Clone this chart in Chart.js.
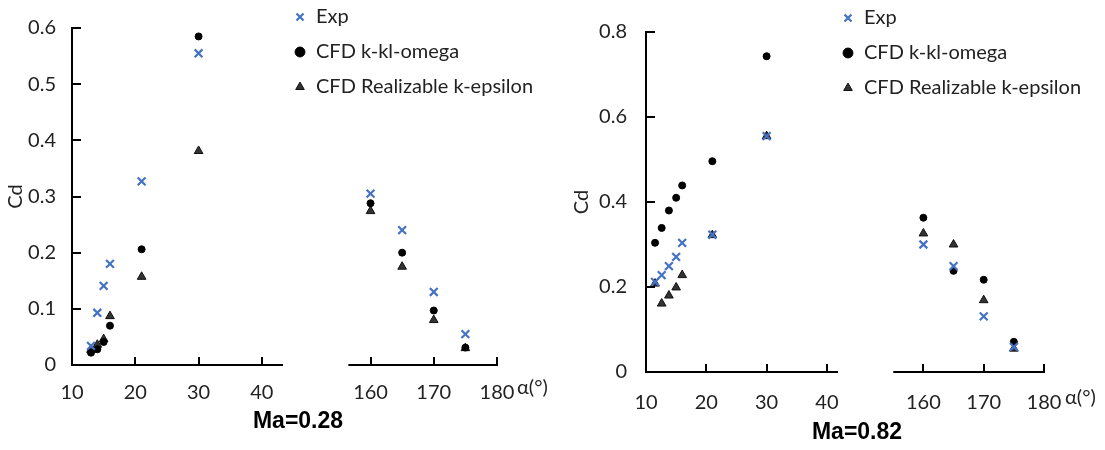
<!DOCTYPE html>
<html>
<head>
<meta charset="utf-8">
<script src="https://cdn.jsdelivr.net/npm/chart.js@4"></script>
<style>
  body { margin: 0; background: #fff; }
  .panel { position: absolute; top: 0; }
</style>
</head>
<body>
<canvas id="ma28" class="panel" width="555" height="450" style="left:0"></canvas>
<canvas id="ma82" class="panel" width="550" height="450" style="left:555px"></canvas>
<script>
// angles of attack, low range differs per Mach number
const lowAngles28 = [13, 14, 15, 16, 21, 30];
const lowAngles82 = [11.5, 12.6, 13.8, 15, 16, 21, 30];
const highAngles = [160, 165, 170, 175];

// Cd values: low angles first, then high angles
const exp28 = [0.034, 0.093, 0.141, 0.180, 0.327, 0.555, 0.305, 0.240, 0.130, 0.055];
const kkl28 = [0.022, 0.028, 0.041, 0.070, 0.206, 0.585, 0.288, 0.200, 0.097, 0.031];
const rke28 = [0.027, 0.036, 0.046, 0.087, 0.157, 0.381, 0.274, 0.175, 0.080, 0.030];

const exp82 = [0.212, 0.228, 0.249, 0.271, 0.304, 0.323, 0.555, 0.300, 0.249, 0.131, 0.059];
const kkl82 = [0.304, 0.339, 0.380, 0.410, 0.439, 0.496, 0.743, 0.363, 0.238, 0.217, 0.071];
const rke82 = [0.208, 0.161, 0.180, 0.199, 0.228, 0.322, 0.555, 0.326, 0.300, 0.169, 0.055];

const seriesLabels = ['Exp', 'CFD k-kl-omega', 'CFD Realizable k-epsilon'];
const unitLabel = 'α(°)';

const TEXT = '#222';
const FONT = 'Lato, "Open Sans", sans-serif';
Chart.defaults.font.family = FONT;
Chart.defaults.font.size = 20;
Chart.defaults.color = TEXT;

const styles = [
  { pointStyle: 'crossRot', pointRadius: 5.5, borderColor: '#4472C4', backgroundColor: '#4472C4', pointBorderWidth: 2.2, borderWidth: 2.2 },
  { pointStyle: 'circle', pointRadius: 3.5, borderColor: '#000', backgroundColor: '#000', pointBorderWidth: 1, borderWidth: 1 },
  { pointStyle: 'triangle', pointRadius: 5, borderColor: '#111', backgroundColor: '#333', pointBorderWidth: 1, borderWidth: 1 }
];

function points(xs, ys) {
  return xs.map((x, i) => ({ x: x, y: ys[i] }));
}

function buildDatasets(lowAngles, series) {
  const n = lowAngles.length;
  const sets = [];
  ['xa', 'xb'].forEach((axisId, part) => {
    const xs = part === 0 ? lowAngles : highAngles;
    series.forEach((values, k) => {
      const ys = part === 0 ? values.slice(0, n) : values.slice(n);
      sets.push(Object.assign({
        label: seriesLabels[k],
        data: points(xs, ys),
        xAxisID: axisId,
        clip: false
      }, styles[k]));
    });
  });
  return sets;
}

function inwardTicks(ctx, scale, len) {
  scale.ticks.forEach(t => {
    const p = Math.round(scale.getPixelForValue(t.value));
    if (scale.isHorizontal()) {
      const ay = Math.round(scale.top);
      ctx.moveTo(p, ay);
      ctx.lineTo(p, ay - len);
    } else {
      const ax = Math.round(scale.right);
      ctx.moveTo(ax, p);
      ctx.lineTo(ax + len, p);
    }
  });
}

// legend placement, inward ticks, partial axis line for the broken range, texts
const panelDeco = {
  id: 'panelDeco',
  afterLayout(chart, args, opts) {
    const lg = chart.legend;
    const w = lg.width, h = lg.height;
    lg.left = opts.legendX; lg.top = opts.legendY;
    lg.right = lg.left + w; lg.bottom = lg.top + h;
  },
  afterDraw(chart, args, opts) {
    const ctx = chart.ctx;
    const sc = chart.scales;
    const xb = sc.xb;
    const axisY = Math.round(xb.top);
    ctx.save();
    ctx.strokeStyle = '#000';
    ctx.lineWidth = 2;
    ctx.beginPath();
    ctx.moveTo(xb.getPixelForValue(opts.breakStart), axisY);
    ctx.lineTo(xb.getPixelForValue(180) + 1, axisY);
    inwardTicks(ctx, sc.xa, 8);
    inwardTicks(ctx, xb, 8);
    inwardTicks(ctx, sc.y, 9);
    ctx.stroke();

    ctx.fillStyle = TEXT;
    ctx.font = '20px ' + FONT;
    ctx.textAlign = 'left';
    ctx.textBaseline = 'middle';
    ctx.fillText(unitLabel, xb.getPixelForValue(180) + opts.unitDx, axisY + opts.unitDy);

    ctx.fillStyle = '#000';
    ctx.font = 'bold 23px "Liberation Sans", Arial, sans-serif';
    ctx.textAlign = 'center';
    ctx.fillText(opts.caption, opts.captionX, opts.captionY);
    ctx.restore();
  }
};

function makePanel(canvasId, lowAngles, series, g) {
  const noGrid = { display: false, drawTicks: false };
  new Chart(document.getElementById(canvasId), {
    type: 'scatter',
    data: { datasets: buildDatasets(lowAngles, series) },
    options: {
      responsive: false,
      animation: false,
      events: [],
      layout: { padding: g.padding },
      scales: {
        xa: {
          type: 'linear', position: 'bottom', stack: 'alpha', stackWeight: g.xaWeight,
          min: 10, max: g.xaMax,
          ticks: { stepSize: 10, includeBounds: false, padding: g.xTickPad },
          grid: noGrid,
          border: { display: true, color: '#000', width: 2 },
          afterFit: (s) => { s.height = 50; }
        },
        xb: {
          type: 'linear', position: 'bottom', stack: 'alpha', stackWeight: g.xbWeight,
          min: g.xbMin, max: 180,
          ticks: { stepSize: 10, includeBounds: false, padding: g.xTickPad },
          grid: noGrid,
          border: { display: false },
          afterBuildTicks: (s) => { s.ticks = s.ticks.filter(t => t.value >= 160); },
          afterFit: (s) => { s.height = 50; }
        },
        y: {
          type: 'linear', position: 'left',
          min: 0, max: g.yMax,
          ticks: { stepSize: g.yStep, padding: g.yTickPad },
          grid: noGrid,
          border: { display: true, color: '#000', width: 2 },
          title: { display: true, text: 'Cd', padding: { top: 4, bottom: 4 } },
          afterFit: (s) => { s.width = g.yWidth; }
        }
      },
      plugins: {
        tooltip: { enabled: false },
        legend: {
          position: 'chartArea',
          align: 'start',
          labels: {
            usePointStyle: true,
            boxWidth: 12,
            boxHeight: 7,
            padding: 15,
            color: TEXT,
            filter: (item, data) => data.datasets[item.datasetIndex].xAxisID === 'xa'
          }
        },
        panelDeco: g.deco
      }
    },
    plugins: [panelDeco]
  });
}

makePanel('ma28', lowAngles28, [exp28, kkl28, rke28], {
  padding: { left: 0, top: 28, right: 58, bottom: 35 },
  yWidth: 72, yMax: 0.6, yStep: 0.1, yTickPad: 16,
  xaWeight: 210, xbWeight: 215, xaMax: 43.18, xbMin: 146.0, xTickPad: 16,
  deco: { legendX: 279, legendY: -8, breakStart: 156.5, unitDx: 20, unitDy: 23,
          caption: 'Ma=0.28', captionX: 298, captionY: 422 }
});

makePanel('ma82', lowAngles82, [exp82, kkl82, rke82], {
  padding: { left: 11, top: 32, right: 61, bottom: 28 },
  yWidth: 80, yMax: 0.8, yStep: 0.2, yTickPad: 19,
  xaWeight: 191, xbWeight: 207, xaMax: 41.67, xbMin: 145.67, xTickPad: 19,
  deco: { legendX: 272, legendY: -7, breakStart: 155, unitDx: 21, unitDy: 26,
          caption: 'Ma=0.82', captionX: 302, captionY: 433 }
});
</script>
</body>
</html>
